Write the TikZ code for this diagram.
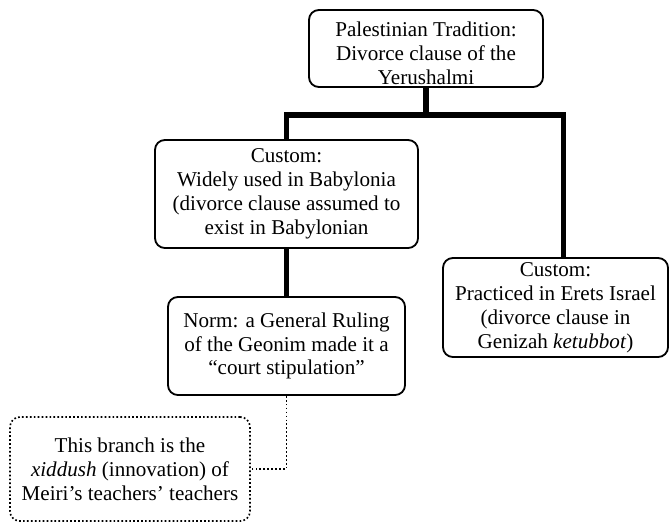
\documentclass[tikz,border=0pt]{standalone}
\usepackage{fontspec}
\setmainfont{Liberation Serif}

\begin{document}
\begin{tikzpicture}[
  box/.style={rectangle, draw, rounded corners=7pt, line width=1.3pt, inner sep=0pt, align=center, font=\fontsize{15}{17}\selectfont},
  note/.style={rectangle, draw, dash pattern=on 1.2pt off 1.6pt, rounded corners=7pt, line width=1.2pt, inner sep=0pt, align=center, font=\fontsize{15}{17}\selectfont},
  link/.style={line width=3.6pt},
  aside/.style={dash pattern=on 1.2pt off 1.6pt, line width=1.2pt}
]
  \useasboundingbox (0,0) rectangle (16.75,-13.075);

  \node[box, minimum width=5.85cm, minimum height=1.925cm] (tradition) at (10.65,-1.2125) {\rule{0pt}{17pt}Palestinian Tradition:\\Divorce clause of the\\Yerushalmi};
  \node[box, minimum width=6.575cm, minimum height=2.7cm] (babylonia) at (7.1625,-4.85) {Custom:\\Widely used in Babylonia\\(divorce clause assumed to\\exist in Babylonian};
  \node[box, minimum width=5.925cm, minimum height=2.45cm] (geonim) at (7.1625,-8.65) {Norm: a General Ruling\\of the Geonim made it a\\``court stipulation''};
  \node[box, minimum width=5.625cm, minimum height=2.475cm] (erets) at (13.8875,-7.6875) {Custom:\\Practiced in Erets Israel\\(divorce clause in\\Genizah \textit{ketubbot})};
  \node[note, minimum width=6cm, minimum height=2.6cm] (xiddush) at (3.25,-11.725) {This branch is the\\\textit{xiddush} (innovation) of\\Meiri's teachers' teachers};

  \coordinate (fork) at (10.65,-2.875);

  \draw[link] (tradition.south) -- (fork);
  \draw[link] (babylonia.north) |- (fork) -| ([xshift=0.19cm]erets.north);
  \draw[link] (babylonia.south) -- (geonim.north);
  \draw[aside] (geonim.south) |- (xiddush.east);
\end{tikzpicture}
\end{document}
